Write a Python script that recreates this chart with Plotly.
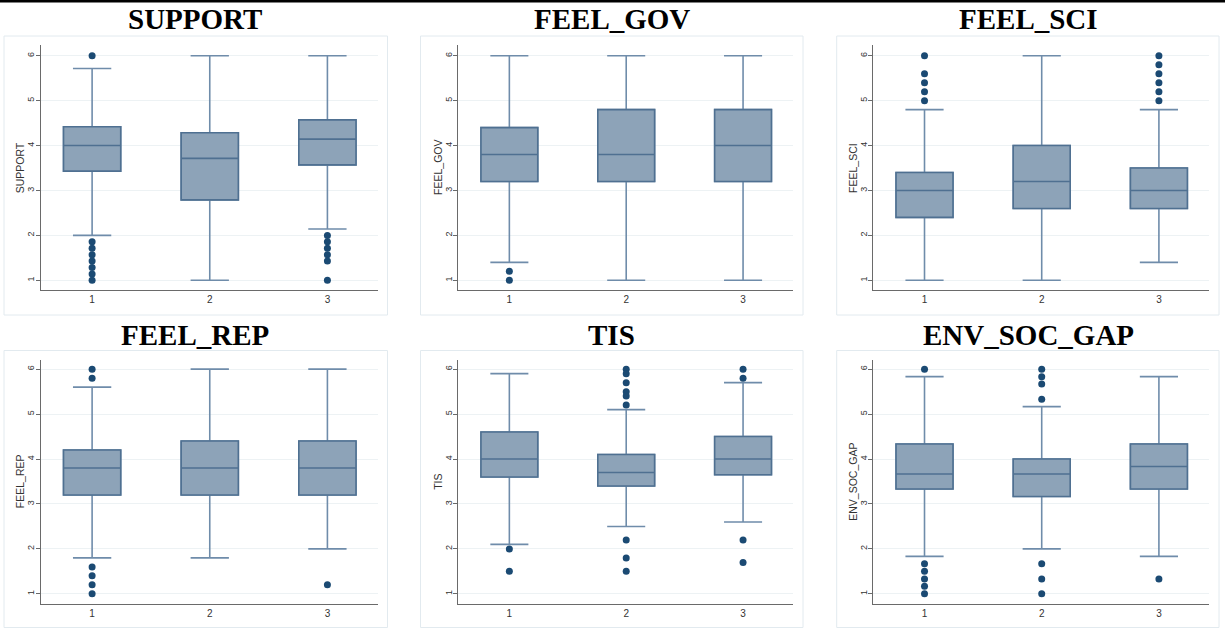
import plotly.graph_objects as go

W, H = 1225, 628

groups = [1, 2, 3]
variables = ["SUPPORT", "FEEL_GOV", "FEEL_SCI", "FEEL_REP", "TIS", "ENV_SOC_GAP"]

# Box statistics per variable, for groups 1, 2, 3
support_q1 = [3.43, 2.79, 3.57]
support_med = [4.0, 3.714, 4.143]
support_q3 = [4.42, 4.286, 4.571]
support_lo = [2.0, 1.0, 2.143]
support_hi = [5.714, 6.0, 6.0]
support_out = [[6.0, 1.857, 1.714, 1.571, 1.429, 1.286, 1.143, 1.0],
               [],
               [2.0, 1.857, 1.714, 1.571, 1.429, 1.0]]

gov_q1 = [3.2, 3.2, 3.2]
gov_med = [3.8, 3.8, 4.0]
gov_q3 = [4.4, 4.8, 4.8]
gov_lo = [1.4, 1.0, 1.0]
gov_hi = [6.0, 6.0, 6.0]
gov_out = [[1.2, 1.0], [], []]

sci_q1 = [2.4, 2.6, 2.6]
sci_med = [3.0, 3.2, 3.0]
sci_q3 = [3.4, 4.0, 3.5]
sci_lo = [1.0, 1.0, 1.4]
sci_hi = [4.8, 6.0, 4.8]
sci_out = [[6.0, 5.6, 5.4, 5.2, 5.0], [], [6.0, 5.8, 5.6, 5.4, 5.2, 5.0]]

rep_q1 = [3.2, 3.2, 3.2]
rep_med = [3.8, 3.8, 3.8]
rep_q3 = [4.2, 4.4, 4.4]
rep_lo = [1.8, 1.8, 2.0]
rep_hi = [5.6, 6.0, 6.0]
rep_out = [[6.0, 5.8, 1.6, 1.4, 1.2, 1.0], [], [1.2]]

tis_q1 = [3.6, 3.4, 3.65]
tis_med = [4.0, 3.7, 4.0]
tis_q3 = [4.6, 4.1, 4.5]
tis_lo = [2.1, 2.5, 2.6]
tis_hi = [5.9, 5.1, 5.7]
tis_out = [[2.0, 1.5],
           [6.0, 5.9, 5.7, 5.5, 5.4, 5.2, 2.2, 1.8, 1.5],
           [6.0, 5.8, 2.2, 1.7]]

gap_q1 = [3.333, 3.167, 3.333]
gap_med = [3.667, 3.667, 3.833]
gap_q3 = [4.333, 4.0, 4.333]
gap_lo = [1.833, 2.0, 1.833]
gap_hi = [5.833, 5.167, 5.833]
gap_out = [[6.0, 1.667, 1.5, 1.333, 1.167, 1.0],
           [6.0, 5.833, 5.667, 5.333, 1.667, 1.333, 1.0],
           [1.333]]

stats = {
    "SUPPORT": (support_q1, support_med, support_q3, support_lo, support_hi, support_out),
    "FEEL_GOV": (gov_q1, gov_med, gov_q3, gov_lo, gov_hi, gov_out),
    "FEEL_SCI": (sci_q1, sci_med, sci_q3, sci_lo, sci_hi, sci_out),
    "FEEL_REP": (rep_q1, rep_med, rep_q3, rep_lo, rep_hi, rep_out),
    "TIS": (tis_q1, tis_med, tis_q3, tis_lo, tis_hi, tis_out),
    "ENV_SOC_GAP": (gap_q1, gap_med, gap_q3, gap_lo, gap_hi, gap_out),
}

y_ticks = [1, 2, 3, 4, 5, 6]
x_tick_labels = ["1", "2", "3"]

# ---- styling / layout geometry (pixels) ----
FILL = "#8DA3B8"
BOX_LINE = "#4F7091"
WHISK_LINE = "#6F8CAA"
DOT = "#1B4A73"
AXIS = "#6A6A6A"
GRID = "#EDF2F4"
FRAME = "#E2EAEF"

col_axis = [(40.7, 378.0), (458.3, 793.3), (873.3, 1209.3)]
row_axis = [(45.3, 290.0), (359.5, 603.5)]
row_range = [[0.784, 6.232], [0.785, 6.215]]
x_range = [0.563, 3.43]
col_frames = [(4, 387.5), (420.5, 803), (836.7, 1219)]
row_frames = [(36, 315), (350.5, 627.5)]
title_x = [195, 611.7, 1028]
title_y = [19, 334.5]


def px_x(p):
    return p / W


def px_y(p):
    return 1 - p / H


fig = go.Figure()
layout = dict(
    width=W, height=H,
    margin=dict(l=0, r=0, t=0, b=0),
    paper_bgcolor="white", plot_bgcolor="white",
    showlegend=False,
    boxmode="overlay",
    font=dict(family="Liberation Sans, Arial, sans-serif", color="#333333", size=9),
)
shapes = []
annotations = []

for i, var in enumerate(variables):
    r, c = divmod(i, 3)
    n = i + 1
    xa = "x" if n == 1 else f"x{n}"
    ya = "y" if n == 1 else f"y{n}"
    q1, med, q3, lo, hi, outs = stats[var]

    # whiskers + box (lighter line)
    fig.add_trace(go.Box(
        x=groups, q1=q1, median=med, q3=q3, lowerfence=lo, upperfence=hi,
        xaxis=xa, yaxis=ya, width=0.486, whiskerwidth=0.67,
        fillcolor=FILL, line=dict(color=WHISK_LINE, width=1.6),
        boxpoints=False, hoverinfo="skip",
    ))
    # box outline + median (darker line)
    fig.add_trace(go.Box(
        x=groups, q1=q1, median=med, q3=q3, lowerfence=q1, upperfence=q3,
        xaxis=xa, yaxis=ya, width=0.486, whiskerwidth=0.5,
        fillcolor=FILL, line=dict(color=BOX_LINE, width=1.6),
        boxpoints=False, hoverinfo="skip",
    ))
    # outliers
    ox, oy = [], []
    for g, vals in zip(groups, outs):
        ox += [g] * len(vals)
        oy += vals
    fig.add_trace(go.Scatter(
        x=ox, y=oy, mode="markers", xaxis=xa, yaxis=ya,
        marker=dict(color=DOT, size=7, line=dict(width=0)), hoverinfo="skip",
    ))

    xl, xr = col_axis[c]
    yt, yb = row_axis[r]
    layout["xaxis" if n == 1 else f"xaxis{n}"] = dict(
        domain=[px_x(xl), px_x(xr)], range=x_range, anchor=ya,
        tickmode="array", tickvals=groups, ticktext=x_tick_labels,
        showgrid=False, zeroline=False, showline=True, linecolor=AXIS, linewidth=1.4,
        ticks="", tickfont=dict(size=10, color="#333333"), fixedrange=True,
    )
    layout["yaxis" if n == 1 else f"yaxis{n}"] = dict(
        domain=[px_y(yb), px_y(yt)], range=row_range[r], anchor=xa,
        tickmode="array", tickvals=y_ticks, ticktext=[str(v) for v in y_ticks],
        tickangle=-90, showgrid=True, gridcolor=GRID, gridwidth=1,
        zeroline=False, showline=True, linecolor=AXIS, linewidth=1.4,
        ticks="outside", ticklen=4, tickcolor=AXIS, tickwidth=1,
        ticklabelstandoff=-2,
        tickfont=dict(size=9, color="#333333"),
        fixedrange=True,
    )
    # y-axis title as rotated text
    annotations.append(dict(
        text=var, xref="paper", yref="paper",
        x=px_x(xl - 21), y=px_y((yt + yb) / 2), xanchor="center", yanchor="middle",
        textangle=-90, showarrow=False,
        font=dict(family="Liberation Sans, Arial, sans-serif", size=10.5, color="#333333"),
    ))

    fl, fr = col_frames[c]
    ft, fb = row_frames[r]
    shapes.append(dict(type="rect", xref="paper", yref="paper",
                       x0=px_x(fl), x1=px_x(fr), y0=px_y(fb), y1=px_y(ft),
                       line=dict(color=FRAME, width=1), fillcolor="rgba(0,0,0,0)",
                       layer="below"))
    annotations.append(dict(
        text=f"<b>{var}</b>", xref="paper", yref="paper",
        x=px_x(title_x[c]), y=px_y(title_y[r]), xanchor="center", yanchor="middle",
        showarrow=False,
        font=dict(family="Liberation Serif, Times New Roman, serif", size=29, color="black"),
    ))

# top rule
shapes.append(dict(type="line", xref="paper", yref="paper",
                   x0=0, x1=1, y0=px_y(1.2), y1=px_y(1.2),
                   line=dict(color="black", width=2.5)))

layout["shapes"] = shapes
layout["annotations"] = annotations
fig.update_layout(**layout)
fig.write_html(
    "out.html",
    config={"displayModeBar": False, "staticPlot": False},
    post_script="document.body.style.margin='0';document.body.style.padding='0';",
)
